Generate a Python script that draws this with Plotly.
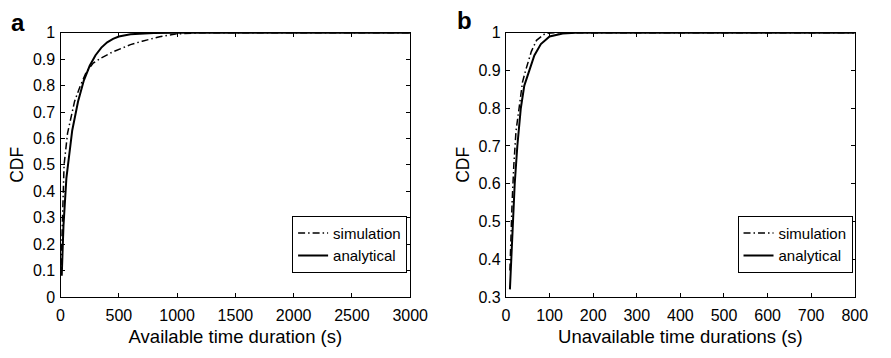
import plotly.graph_objects as go

# Panel a: available time durations (s)
a_ana_x = [10, 25, 50, 75, 100, 150, 200, 250, 300, 350, 400, 450, 500, 600, 700, 800, 1000, 3000]
a_ana_y = [0.08, 0.27, 0.45, 0.55, 0.63, 0.74, 0.82, 0.875, 0.915, 0.944, 0.964, 0.977, 0.986, 0.994, 0.997, 0.999, 1.0, 1.0]
a_sim_x = [5, 15, 30, 60, 90, 120, 170, 220, 280, 350, 450, 600, 700, 850, 1000, 1200, 3000]
a_sim_y = [0.12, 0.3, 0.5, 0.62, 0.68, 0.74, 0.8, 0.85, 0.885, 0.905, 0.928, 0.955, 0.968, 0.985, 0.996, 1.0, 1.0]

# Panel b: unavailable time durations (s)
b_ana_x = [9, 12, 15, 20, 26, 34, 42, 53, 65, 80, 100, 130, 160, 800]
b_ana_y = [0.32, 0.4, 0.5, 0.6, 0.7, 0.8, 0.86, 0.9, 0.94, 0.97, 0.99, 0.998, 1.0, 1.0]
b_sim_x = [9, 11, 14, 18, 23, 30, 38, 45, 58, 70, 90, 110, 800]
b_sim_y = [0.37, 0.45, 0.55, 0.65, 0.74, 0.8, 0.87, 0.9, 0.95, 0.98, 0.998, 1.0, 1.0]

series_names = ["simulation", "analytical"]
a_xticks = [0, 500, 1000, 1500, 2000, 2500, 3000]
b_xticks = [0, 100, 200, 300, 400, 500, 600, 700, 800]

FONT = "Liberation Sans, Arial, Helvetica, sans-serif"
W, H = 891, 358

fig = go.Figure()
sim_line = dict(color="black", width=1.5, dash="7px,3px,1.5px,3px")
ana_line = dict(color="black", width=2)

fig.add_trace(go.Scatter(x=a_sim_x, y=a_sim_y, mode="lines", name=series_names[0],
                         line=sim_line, xaxis="x", yaxis="y", legend="legend"))
fig.add_trace(go.Scatter(x=a_ana_x, y=a_ana_y, mode="lines", name=series_names[1],
                         line=ana_line, xaxis="x", yaxis="y", legend="legend"))
fig.add_trace(go.Scatter(x=b_sim_x, y=b_sim_y, mode="lines", name=series_names[0],
                         line=sim_line, xaxis="x2", yaxis="y2", legend="legend2"))
fig.add_trace(go.Scatter(x=b_ana_x, y=b_ana_y, mode="lines", name=series_names[1],
                         line=ana_line, xaxis="x2", yaxis="y2", legend="legend2"))

ydom = [1 - 303.3 / H, 1 - 26 / H]
axcommon = dict(showline=True, linecolor="black", linewidth=1.3, mirror="ticks",
                ticks="inside", ticklen=4, tickcolor="black", tickwidth=1,
                showgrid=False, zeroline=False,
                tickfont=dict(family=FONT, size=16, color="black"))

fig.update_layout(
    width=W, height=H,
    margin=dict(l=0, r=0, t=0, b=0),
    paper_bgcolor="white", plot_bgcolor="white",
    font=dict(family=FONT, size=16, color="black"),
    xaxis=dict(domain=[58 / W, 416.5 / W], range=[0, 3000], tickvals=a_xticks,
               title=dict(text="Available time duration (s)", font=dict(size=18.5), standoff=6),
               anchor="y", ticklabelstandoff=4, **axcommon),
    yaxis=dict(domain=ydom, range=[0, 1], dtick=0.1, tick0=0,
               title=dict(text="CDF", font=dict(size=17.5), standoff=4),
               anchor="x", ticklabelstandoff=1, **axcommon),
    xaxis2=dict(domain=[514.7 / W, 872.3 / W], range=[0, 800], tickvals=b_xticks,
                title=dict(text="Unavailable time durations (s)", font=dict(size=18.5), standoff=6),
                anchor="y2", ticklabelstandoff=4, **axcommon),
    yaxis2=dict(domain=ydom, range=[0.3, 1], dtick=0.1, tick0=0.4,
                title=dict(text="CDF", font=dict(size=17.5), standoff=4),
                anchor="x2", ticklabelstandoff=1, **axcommon),
    legend=dict(x=413.3 / W, y=1 - 278 / H, xanchor="right", yanchor="bottom",
                bordercolor="black", borderwidth=1, bgcolor="white",
                font=dict(size=15), tracegroupgap=0, itemwidth=30),
    legend2=dict(x=870 / W, y=1 - 278 / H, xanchor="right", yanchor="bottom",
                 bordercolor="black", borderwidth=1, bgcolor="white",
                 font=dict(size=15), tracegroupgap=0, itemwidth=30),
    annotations=[
        dict(text="<b>a</b>", x=14.5 / W, y=1 - 15 / H, xref="paper", yref="paper",
             xanchor="center", yanchor="middle",
             showarrow=False, font=dict(size=24, family=FONT)),
        dict(text="<b>b</b>", x=472 / W, y=1 - 13 / H, xref="paper", yref="paper",
             xanchor="center", yanchor="middle",
             showarrow=False, font=dict(size=24, family=FONT)),
    ],
    showlegend=True,
)

fig.write_html("out.html")
